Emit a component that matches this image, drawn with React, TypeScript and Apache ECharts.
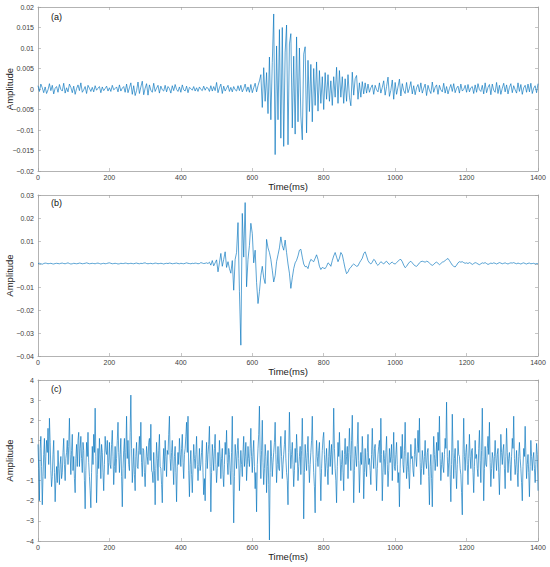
import React, { useEffect, useRef } from "react";
import * as echarts from "echarts";

// Sampling interval of the typed arrays (ms)
const STEP_A_MS = 4;
const STEP_B_MS = 4;
const STEP_C_MS = 2;

// Panel (a): amplitude in units of 1e-3
const ampA_milli = [
  0.8,-0.6,1.2,0.3,-0.9,0.5,-1.1,-0.2,1.3,-0.4,
  0.9,-1.2,0.2,0.6,-0.8,1.1,-0.1,-0.5,1.4,-1.0,
  0.3,-0.7,1.2,0.4,-0.9,0.7,-1.3,0.1,1.0,-0.4,
  1.5,-0.8,-0.2,0.6,-1.1,0.9,0.2,-0.6,0.4,-0.7,
  0.8,-0.3,0.2,0.6,-0.9,0.5,-0.4,0.1,0.7,-0.5,
  0.3,-0.6,0.9,-0.2,0.1,0.5,-0.7,1.0,-0.5,0.2,
  0.6,-0.8,1.2,-0.9,0.3,1.5,-1.3,0.8,-1.6,-0.4,
  1.7,-1.1,0.5,1.9,-1.4,0.2,1.3,-1.5,1.0,-0.3,
  -0.8,1.4,-0.6,0.2,0.9,-1.0,0.7,-0.2,-0.5,0.9,
  -0.7,0.6,0.1,-1.0,0.8,-0.4,1.1,-0.1,-0.6,0.5,
  -0.8,1.0,-0.2,-0.5,0.7,-0.9,0.4,0.1,-0.3,0.6,
  -0.5,0.3,-0.6,0.5,-0.1,-0.4,0.7,-0.3,0.4,0.2,
  -0.6,0.8,-0.5,0.6,-0.4,1.6,-0.9,0.3,1.2,-1.1,
  0.7,-0.5,0.2,0.9,-0.6,0.4,-0.7,0.6,-0.2,-0.5,
  0.8,-0.4,0.9,-0.7,0.1,1.2,-0.6,0.5,-0.8,1.1,
  -0.9,0.3,1.4,-0.7,0.8,
  2.0,3.5,-4.5,5.2,-3.0,4.0,-6.0,7.8,-7.5,6.5,
  18.3,-16.0,10.5,-7.5,14.5,-12.0,15.0,-14.0,9.0,15.6,
  -13.6,11.0,13.5,-9.5,8.0,-11.0,12.7,-8.0,10.0,-6.6,
  -12.4,8.5,10.3,-10.7,7.0,-5.5,6.0,-8.0,5.0,-4.0,
  6.6,-5.4,4.5,-3.5,3.0,-5.0,4.0,-2.5,3.5,-3.0,
  2.0,-4.0,3.0,-2.0,5.3,-3.5,4.5,-2.0,3.0,-3.5,
  2.5,-3.0,3.5,-2.0,-4.1,4.1,-1.5,2.5,3.3,-2.5,
  1.5,-2.0,1.8,-1.2,1.5,-1.0,
  1.2,-0.8,0.3,1.0,-1.3,0.9,-0.2,-0.7,1.5,-1.0,
  0.4,2.0,-1.5,0.6,2.9,-1.8,-0.3,2.2,-2.5,1.6,
  -1.3,0.5,2.4,-1.7,1.3,-0.4,-1.1,1.6,-0.9,0.2,
  1.8,-1.2,0.8,-1.4,0.3,1.1,-0.7,1.5,-1.0,0.2,
  1.2,-1.6,0.9,-0.3,-1.1,1.7,-0.8,0.4,1.0,-1.3,
  0.9,-0.2,-0.7,1.4,-1.0,0.6,-1.2,0.1,1.1,-0.6,
  1.3,-0.9,0.2,0.7,-1.0,1.2,-0.5,-0.1,0.9,-0.8,
  1.1,-0.7,0.3,0.6,-1.1,1.0,-0.8,1.3,-0.2,-0.6,
  0.9,-1.2,1.5,-0.9,0.4,1.1,-1.4,1.2,-0.3,-0.8,
  1.6,-1.1,0.9,-1.3,0.2,1.4,-0.7,1.0,-1.2,0.4,
  1.3,-0.9,0.8,-0.2,-1.0,1.5,-0.6,1.1,-1.3,0.3,
  0.9,-0.8,1.2,-0.7,1.4,-1.1,0.2,0.8,-0.9,1.3,
];

// Panel (b): amplitude in units of 1e-3
const ampB_milli = [
  0.2,0.3,0.1,-0.1,0.2,0.4,0.3,0.1,0.2,0.3,
  0.1,0.0,0.2,0.3,0.2,0.1,0.3,0.4,0.2,0.1,
  0.3,0.5,0.2,0.0,0.1,0.3,0.2,0.1,0.2,0.4,
  0.3,0.1,0.2,0.3,0.5,0.3,0.1,0.2,0.3,0.2,
  0.1,0.3,0.4,0.2,0.0,0.2,0.3,0.1,0.2,0.4,
  0.5,0.3,0.1,0.2,0.3,0.2,0.0,0.1,0.3,0.2,
  0.2,0.4,0.3,0.1,0.2,0.3,0.2,0.1,0.3,0.4,
  0.2,0.1,0.3,0.2,0.4,0.5,0.2,0.1,0.2,0.3,
  0.1,0.2,0.4,0.3,0.1,0.2,0.3,0.2,0.0,0.2,
  0.3,0.2,0.4,0.3,0.1,0.2,0.3,0.4,0.2,0.1,
  0.3,0.2,0.1,0.3,0.5,0.3,0.2,0.1,0.3,0.2,
  0.4,0.3,0.1,0.2,0.6,0.4,0.2,0.3,0.5,0.2,
  0.8,-0.5,1.5,-0.8,0.5,1.8,-3.4,0.5,4.6,-1.0,
  2.0,5.3,-1.5,1.0,-2.0,-4.0,1.5,-11.4,2.0,5.0,
  18.0,-12.0,-35.3,22.0,3.0,26.7,-9.9,2.0,8.0,17.7,
  13.3,0.5,6.0,-8.0,-17.2,-12.0,-5.0,-1.0,-6.0,-8.5,
  10.7,7.0,5.0,2.0,-2.7,-7.8,-5.0,1.0,4.0,7.0,
  11.8,8.0,6.0,10.4,5.0,0.0,-4.0,-10.6,-6.0,-2.0,
  0.5,1.6,3.5,6.0,6.4,3.0,0.0,-1.2,-1.0,-2.0,
  0.5,2.0,1.5,1.0,2.5,4.0,2.0,-1.0,-2.4,-1.5,
  -1.8,-2.0,-1.0,0.5,0.0,-1.0,1.5,3.5,5.0,3.0,
  1.0,2.5,5.0,4.0,1.0,-2.0,-4.2,-3.5,-2.0,-1.5,
  -0.5,0.0,-0.5,-1.0,-0.8,0.5,1.5,2.5,4.5,5.3,
  3.5,1.5,0.5,0.0,0.8,2.0,1.5,0.0,-0.6,0.2,
  1.0,0.5,0.0,0.8,1.2,0.4,-0.2,0.5,0.8,0.2,
  0.0,0.6,1.2,1.8,2.0,1.0,-0.5,-1.6,-1.0,0.0,
  0.8,1.2,0.5,-0.3,-0.8,-1.0,-0.4,0.5,1.0,1.2,
  1.0,0.8,1.2,1.0,0.4,-0.2,-0.6,-0.2,0.5,0.8,
  0.3,-0.3,0.2,0.8,1.0,1.5,2.0,2.4,1.5,0.5,
  -0.5,-1.0,-1.3,-0.5,0.5,1.0,0.8,1.0,0.6,0.3,
  0.5,0.2,0.6,0.3,-0.2,0.2,0.6,0.4,0.0,-0.3,
  0.1,0.5,0.3,0.6,0.2,-0.2,0.1,0.4,0.2,0.5,
  0.3,0.0,0.3,0.6,0.4,0.1,0.3,0.5,0.2,0.0,
  0.3,0.5,0.4,0.6,0.3,0.1,0.4,0.2,0.0,0.3,
  0.5,0.2,0.0,0.3,0.4,0.1,0.2,0.3,0.0,0.2,
  0.1,
];

// Panel (c): amplitude
const ampC = [
  0.8,-0.4,-2.0,0.6,1.2,-0.3,-2.2,-0.8,0.3,1.1,-0.9,0.2,1.0,0.4,1.6,-0.2,2.1,0.9,-0.5,-1.3,
  -0.8,0.3,1.0,-0.6,-2.05,-1.0,-0.3,-1.1,0.5,-0.4,-1.2,-0.2,0.2,-0.9,-0.6,0.4,1.1,-0.2,-1.0,0.1,
  0.4,1.0,-0.2,0.7,2.1,0.3,-0.7,0.5,1.3,-0.5,0.2,-0.9,-1.6,0.1,0.8,-0.3,1.0,1.4,-0.3,0.6,
  1.2,0.1,-0.6,0.9,0.5,-1.0,-2.4,-0.5,0.9,0.2,1.4,-0.1,-0.8,-1.5,-2.35,-0.6,0.7,-0.2,1.3,0.4,
  2.6,0.2,-2.1,-0.7,0.6,-0.4,1.1,0.3,-0.9,0.8,0.4,-0.6,-1.5,-0.2,1.2,0.5,0.3,1.0,-0.7,-0.1,
  0.9,-0.2,-0.4,0.8,1.5,0.2,-1.2,-0.3,0.7,-0.6,0.1,1.0,1.9,0.4,-0.6,0.3,1.1,-0.8,-2.3,-0.4,
  0.5,1.1,-0.9,0.4,2.2,0.1,1.0,-0.2,-0.5,1.4,3.25,0.6,-1.1,-0.4,0.6,-0.7,-1.5,0.2,0.9,-0.3,
  -0.4,0.5,1.2,0.3,1.9,-0.1,-0.8,0.6,0.5,-0.6,-1.3,-0.2,0.7,0.2,-0.2,0.9,1.1,0.0,1.8,-0.5,
  -0.6,-1.1,0.4,-0.5,-2.2,-0.4,0.9,0.1,-1.0,0.5,1.3,-0.3,-0.4,-1.2,-2.1,-0.2,0.6,-0.5,1.0,0.2,
  -0.8,0.5,0.3,1.3,2.2,0.1,-0.5,0.4,1.0,-0.3,-1.2,0.2,0.7,-0.6,-2.05,-0.3,0.4,-0.2,1.1,0.3,
  -0.3,0.6,1.3,-0.1,-0.9,0.3,0.6,1.2,1.9,0.4,2.2,-0.5,-1.8,-0.2,0.5,-0.7,-1.6,-0.4,0.8,0.1,
  -0.4,0.3,1.2,-0.2,-1.0,-0.3,0.6,-0.5,-0.2,0.4,1.0,-0.6,-1.7,-0.9,-2.0,-0.1,0.9,-0.4,0.3,0.8,
  1.7,-0.3,-2.55,-0.6,0.8,0.2,-0.5,0.6,1.3,-0.2,-1.1,-0.4,0.4,-0.3,1.0,0.2,-0.9,0.1,0.6,-0.7,
  -1.3,-0.2,0.9,0.3,1.5,-0.1,-0.7,0.6,0.3,-0.5,-1.2,0.4,2.2,-0.6,-3.1,-0.8,0.8,0.2,-0.4,0.5,
  1.1,0.1,-1.5,-0.4,0.5,-0.2,-0.8,0.4,1.2,-0.3,0.2,0.9,-1.0,-0.2,0.7,0.1,-0.3,0.6,1.6,0.2,
  -0.6,0.4,1.0,-0.3,-1.4,-0.6,-2.55,-0.2,0.6,1.3,2.7,0.3,-0.9,0.5,2.0,-0.1,-1.2,-0.4,0.8,0.2,
  -1.6,-0.3,0.5,-1.2,-3.95,-0.6,1.0,0.2,-0.8,-0.1,0.4,0.9,1.9,0.3,-1.1,-0.2,0.7,-0.4,-0.5,0.6,
  1.2,0.2,-0.9,-0.2,0.3,0.8,1.5,0.1,-0.6,-1.0,-2.2,0.4,2.4,0.6,-0.4,0.3,0.9,-0.2,-1.3,-0.5,
  0.6,-0.1,1.3,0.4,-1.0,-0.3,0.2,0.7,-0.7,0.5,2.1,0.2,-2.9,-0.6,0.8,0.1,-0.5,0.4,1.2,-0.2,
  -1.1,-0.2,0.4,1.0,2.2,0.3,-0.6,-1.3,-2.6,-0.1,1.0,0.2,-0.3,0.5,0.9,-0.6,-2.0,-0.4,0.5,1.1,
  1.4,0.3,-0.8,-0.1,0.6,-0.4,-1.2,0.2,1.0,-0.3,0.3,0.8,-0.7,0.5,2.6,0.6,-0.4,-1.0,-2.1,-0.3,
  0.9,0.2,1.4,0.1,-1.0,-0.2,0.5,-0.6,-1.5,0.3,1.1,-0.2,0.2,0.7,-0.9,0.4,1.6,0.3,-0.5,1.0,
  2.25,0.1,-2.1,-0.5,0.7,0.2,-0.3,0.8,1.9,0.0,-1.6,-0.3,0.4,-0.2,1.2,0.3,-1.9,-0.6,0.6,-0.2,
  -0.8,0.4,1.3,-0.2,0.1,-0.5,-1.2,0.3,1.6,0.2,-0.4,0.6,0.8,-0.3,-1.5,-0.4,0.3,0.7,1.0,-0.1,
  2.1,0.3,-2.0,-0.6,0.5,0.1,-0.7,0.4,1.2,-0.2,-1.3,-0.5,0.6,-0.1,0.2,0.8,-1.0,0.1,1.4,-0.3,
  -0.5,0.3,0.9,-0.2,-1.1,-0.6,-2.3,-0.4,0.7,0.1,1.3,-0.2,-0.6,0.5,1.9,0.2,-0.9,-0.3,0.4,-0.6,
  -1.4,-0.2,0.8,0.1,0.2,-0.5,-0.8,0.3,1.1,0.2,-0.3,0.6,1.5,0.4,2.1,-0.1,-1.2,-0.4,0.5,0.0,
  -0.7,0.2,1.0,-0.1,-0.4,0.4,0.6,-0.8,-2.2,-0.3,0.3,-0.9,-2.3,-0.2,1.2,0.3,-0.5,0.1,0.9,-0.3,
  1.4,0.5,2.2,0.1,-1.0,-0.2,0.4,-0.3,-0.6,0.3,1.1,0.6,2.9,0.2,-0.8,-0.1,0.5,-0.7,-2.05,-0.2,
  2.3,0.4,-0.9,0.1,0.6,-0.5,-1.4,-0.2,1.0,0.3,0.2,-0.4,-0.7,-1.6,-2.7,0.3,2.1,0.2,-0.5,0.4,
  0.8,-0.2,-1.2,0.1,1.3,0.2,-0.4,0.5,0.6,-0.6,-1.6,-0.3,1.0,0.1,0.3,-0.4,-0.8,0.6,1.5,0.0,
  -1.1,0.5,2.6,0.2,-2.0,-0.4,0.7,-0.2,-0.3,0.6,1.2,0.3,1.9,-0.1,-1.3,-0.4,0.4,0.1,-0.9,0.2,
  1.0,0.1,-0.5,0.3,0.6,-0.6,-1.7,-0.3,1.3,0.4,-0.2,0.5,0.8,-0.4,-1.4,0.2,1.6,0.4,-0.6,0.1,
  0.4,-0.2,-1.0,0.2,1.1,0.6,2.2,0.1,-0.7,-0.2,0.5,-0.6,-1.3,0.2,0.9,0.1,-0.4,-1.1,-2.0,-0.3,
  0.6,0.2,1.7,0.3,-0.9,-0.2,0.3,-0.6,-1.8,-0.3,1.0,0.2,-0.5,0.1,0.4,-0.4,-1.1,-0.2,0.85,0.3,
  -1.5,
];

const panelLabels = ["(a)", "(b)", "(c)"];
const xTitle = "Time(ms)";
const yTitle = "Amplitude";
const timeRange = { min: 0, max: 1400, interval: 200 };
const yRanges = [
  { min: -0.02, max: 0.02, interval: 0.005 },
  { min: -0.04, max: 0.03, interval: 0.01 },
  { min: -4, max: 4, interval: 1 },
];

const LINE_COLOR = "#0072BD";
const AXIS_COLOR = "#a0a0a0";
const LABEL_COLOR = "#404040";
const FONT = "Liberation Sans, Arial, sans-serif";

const toPairs = (vals: number[], step: number, scale: number) =>
  vals.map((v, i) => [i * step, v * scale]);

const fmtY = (v: number) => String(Math.round(v * 100000) / 100000).replace("-", "\u2212");
const fmtX = (v: number) => String(v);

export default function App() {
  const ref = useRef<HTMLDivElement>(null);
  useEffect(() => {
    if (!ref.current) return;
    const chart = echarts.init(ref.current, undefined, { renderer: "svg" });
    const grids = [
      { left: 38, right: 12, top: 7, height: 164, containLabel: false, outerBoundsMode: "none" },
      { left: 38, right: 12, top: 195, height: 161, containLabel: false, outerBoundsMode: "none" },
      { left: 38, right: 12, top: 380, height: 161, containLabel: false, outerBoundsMode: "none" },
    ];
    const seriesData = [
      toPairs(ampA_milli, STEP_A_MS, 0.001),
      toPairs(ampB_milli, STEP_B_MS, 0.001),
      toPairs(ampC, STEP_C_MS, 1),
    ];
    const xAxis: any[] = [];
    const yAxis: any[] = [];
    const series: any[] = [];
    const tick = { show: true, inside: true, length: 3, lineStyle: { color: AXIS_COLOR, width: 0.6 } };
    const line = { show: true, onZero: false, lineStyle: { color: AXIS_COLOR, width: 0.8 } };
    grids.forEach((g, k) => {
      xAxis.push({
        type: "value", gridIndex: k, position: "bottom", ...timeRange,
        axisLine: line, axisTick: tick, splitLine: { show: false },
        axisLabel: { color: LABEL_COLOR, fontSize: 7, fontFamily: FONT, margin: 3, formatter: fmtX },
        name: xTitle, nameLocation: "middle", nameGap: 10, nameMoveOverlap: false,
        nameTextStyle: { color: "#222", fontSize: 9.5, fontFamily: FONT },
      });
      xAxis.push({
        type: "value", gridIndex: k, position: "top", ...timeRange,
        axisLine: line, axisTick: tick, splitLine: { show: false }, axisLabel: { show: false },
      });
      yAxis.push({
        type: "value", gridIndex: k, position: "left", ...yRanges[k],
        axisLine: line, axisTick: tick, splitLine: { show: false },
        axisLabel: { color: LABEL_COLOR, fontSize: 7, fontFamily: FONT, margin: 4, formatter: fmtY },
        name: yTitle, nameLocation: "middle", nameGap: 24, nameMoveOverlap: false,
        nameTextStyle: { color: "#222", fontSize: 9.5, fontFamily: FONT },
      });
      yAxis.push({
        type: "value", gridIndex: k, position: "right", ...yRanges[k],
        axisLine: line, axisTick: tick, splitLine: { show: false }, axisLabel: { show: false },
      });
      series.push({
        type: "line", xAxisIndex: 2 * k, yAxisIndex: 2 * k, data: seriesData[k],
        showSymbol: false, symbol: "none",
        lineStyle: { color: LINE_COLOR, width: 0.65 }, silent: true,
      });
    });
    const labelTops = [12, 198, 384];
    chart.setOption({
      animation: false,
      backgroundColor: "#ffffff",
      grid: grids,
      xAxis, yAxis, series,
      graphic: panelLabels.map((t, k) => ({
        type: "text", left: 51, top: labelTops[k],
        style: { text: t, fontSize: 9, fontFamily: FONT, fill: "#111" },
      })),
    });
    return () => chart.dispose();
  }, []);
  return (
    <div
      ref={ref}
      style={{ position: "fixed", left: 0, top: 0, width: 550, height: 567, background: "#fff" }}
    />
  );
}
